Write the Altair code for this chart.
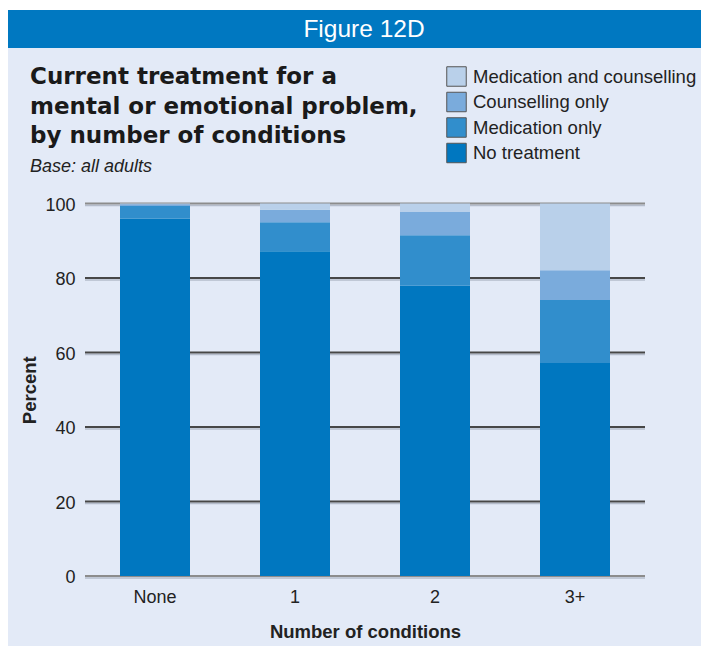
import altair as alt
import pandas as pd

categories = ["None", "1", "2", "3+"]
series = ["Medication and counselling", "Counselling only", "Medication only", "No treatment"]
no_treatment = [96.0, 87.2, 77.9, 57.2]
medication_only = [3.3, 7.8, 13.6, 16.9]
counselling_only = [0.5, 3.3, 6.2, 8.0]
med_and_couns = [0.2, 1.7, 2.3, 17.9]
colors = ["#b9d0ea", "#7aabdc", "#318ecc", "#0077c0"]
y_ticks = [0, 20, 40, 60, 80, 100]
grid_colors = ["#8c8c8c", "#474747", "#474747", "#474747", "#474747", "#8c8c8c"]
title_lines = ["Current treatment for a", "mental or emotional problem,", "by number of conditions"]
subtitle = "Base: all adults"
header_label = "Figure 12D"

rows = []
for i, c in enumerate(categories):
    for s, vals, order in [("No treatment", no_treatment, 0), ("Medication only", medication_only, 1),
                           ("Counselling only", counselling_only, 2),
                           ("Medication and counselling", med_and_couns, 3)]:
        rows.append({"cond": c, "series": s, "value": vals[i], "ord": order})
df = pd.DataFrame(rows)
grid_df = pd.DataFrame({"v": y_ticks, "col": grid_colors})

W, H = 560, 372.5
PL, PT = 77, 195.5
TOTAL_W, TOTAL_H = 693, 638
FONT = "Liberation Sans"
# page -> plot coordinates
def px(x):
    return x - 85
def py(y):
    return y - 203.5

deco = pd.DataFrame({"a": [0]})
white_top = alt.Chart(deco).mark_rect(color="white").encode(
    x=alt.value(-PL), x2=alt.value(TOTAL_W - PL), y=alt.value(-PT), y2=alt.value(py(10)))
header = alt.Chart(deco).mark_rect(color="#0078c1").encode(
    x=alt.value(-PL), x2=alt.value(TOTAL_W - PL), y=alt.value(py(10)), y2=alt.value(py(48)))
header_text = alt.Chart(deco).mark_text(
    text=header_label, color="white", font=FONT, fontSize=24.5, align="center", baseline="alphabetic"
).encode(x=alt.value(px(364)), y=alt.value(py(37)))

title_layers = []
for i, line in enumerate(title_lines):
    title_layers.append(alt.Chart(deco).mark_text(
        text=line, color="#1a1a1a", font="DejaVu Sans", fontSize=23, fontWeight="bold",
        align="left", baseline="alphabetic"
    ).encode(x=alt.value(px(30)), y=alt.value(py(84.3 + 29.2 * i))))
sub_text = alt.Chart(deco).mark_text(
    text=subtitle, color="#222", font=FONT, fontSize=18, fontStyle="italic",
    align="left", baseline="alphabetic"
).encode(x=alt.value(px(30)), y=alt.value(py(172.3)))

yscale = alt.Scale(domain=[0, 100])
shadow = alt.Chart(grid_df).mark_rule(color="#b4bccb", strokeWidth=1.5, yOffset=2).encode(
    y=alt.Y("v:Q", scale=yscale), x=alt.value(0), x2=alt.value(W)
)
grid = alt.Chart(grid_df).mark_rule(strokeWidth=2).encode(
    y=alt.Y("v:Q", scale=yscale), x=alt.value(0), x2=alt.value(W),
    color=alt.Color("col:N", scale=None)
)

bars = alt.Chart(df).mark_bar().encode(
    x=alt.X("cond:N", sort=categories,
            scale=alt.Scale(paddingInner=0.5, paddingOuter=0.25),
            axis=alt.Axis(title="Number of conditions", labelAngle=0, labelFontSize=18,
                          labelFont=FONT, labelColor="#222", labelPadding=12,
                          titleFont=FONT, titleFontSize=18.5, titleFontWeight="bold",
                          titleColor="#222", titlePadding=16, domain=False, ticks=False)),
    y=alt.Y("value:Q", stack="zero", scale=yscale,
            axis=alt.Axis(values=y_ticks, title="Percent", labelFontSize=18, labelFont=FONT,
                          labelColor="#222", labelPadding=10, labelOffset=1.5, domain=False,
                          ticks=False, grid=False,
                          titleFont=FONT, titleFontSize=18.5, titleFontWeight="bold",
                          titleColor="#222", titlePadding=5)),
    color=alt.Color("series:N", scale=alt.Scale(domain=series, range=colors),
                    legend=alt.Legend(title=None, orient="none", legendX=px(446), legendY=py(66),
                                      symbolType="square", symbolSize=380,
                                      symbolStrokeColor="#555", symbolStrokeWidth=1,
                                      symbolOpacity=1, labelFont=FONT, labelFontSize=18.5,
                                      labelColor="#222", rowPadding=0.5, labelOffset=6,
                                      labelLimit=400, padding=0)),
    order=alt.Order("ord:Q", sort="ascending"),
)

chart = alt.layer(white_top, header, header_text, *title_layers, sub_text, shadow, grid, bars).properties(
    width=W, height=H,
    autosize=alt.AutoSizeParams(type="none"),
    padding={"left": PL, "top": PT, "right": TOTAL_W - PL - W, "bottom": TOTAL_H - PT - H},
    background="#e3eaf7",
).configure_view(stroke=None)

chart.save("out.html", embed_options={"renderer": "svg", "actions": False})
